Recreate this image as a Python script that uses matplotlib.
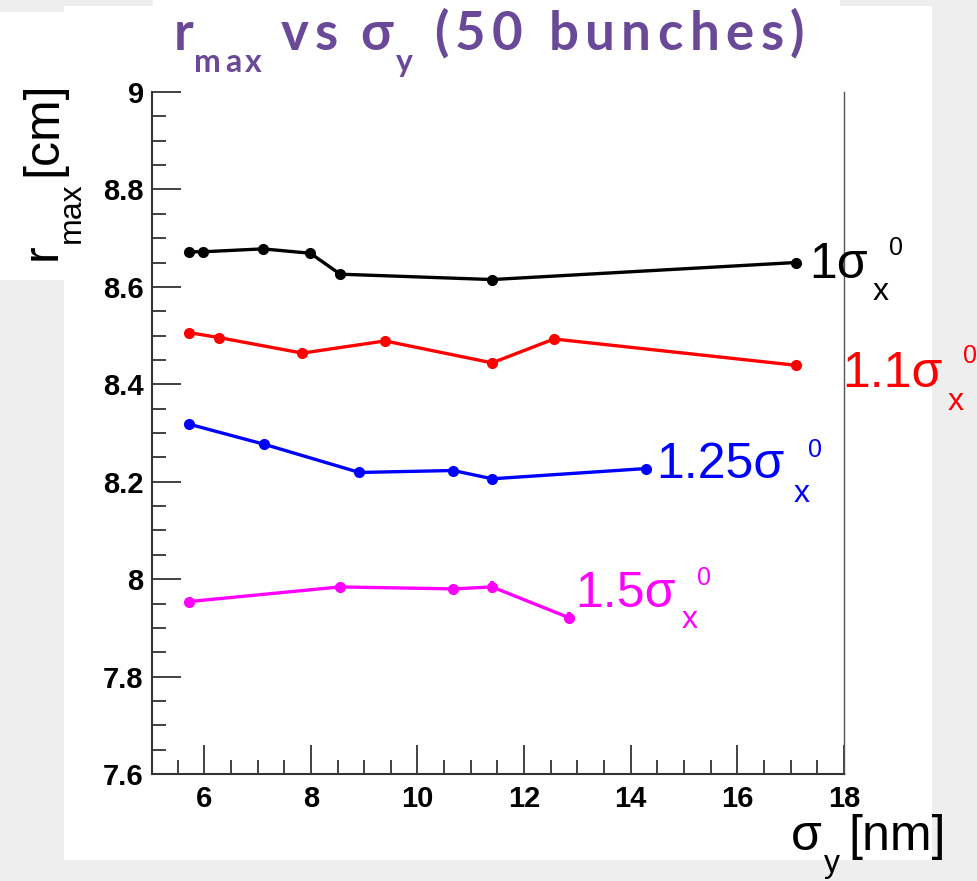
import matplotlib
matplotlib.use('Agg')
import matplotlib.pyplot as plt
from matplotlib.transforms import IdentityTransform
from matplotlib.patches import Rectangle
from matplotlib.ticker import MultipleLocator, FuncFormatter
from matplotlib.font_manager import FontProperties, findfont
from matplotlib.ft2font import FT2Font

plt.rcParams['font.family'] = ['Liberation Sans', 'DejaVu Sans']

# values (sigma_y in nm, r_max in cm)
sig1_x = [5.72, 5.98, 7.10, 7.99, 8.55, 11.40, 17.10]
sig1_r = [8.672, 8.672, 8.678, 8.669, 8.626, 8.615, 8.650]
sig11_x = [5.72, 6.27, 7.84, 9.39, 11.40, 12.56, 17.10]
sig11_r = [8.506, 8.496, 8.464, 8.489, 8.444, 8.493, 8.439]
sig125_x = [5.72, 7.12, 8.91, 10.67, 11.40, 14.28]
sig125_r = [8.318, 8.277, 8.219, 8.223, 8.206, 8.227]
sig15_x = [5.72, 8.54, 10.67, 11.40, 12.84]
sig15_r = [7.954, 7.984, 7.980, 7.984, 7.921]
sig15_err = [0.003, 0.009, 0.009, 0.013, 0.012]

W, H = 977, 881
fig = plt.figure(figsize=(W / 100, H / 100), dpi=100, facecolor='#eeeeee')

# white slide panels behind the plot
for (x0, y0, x1, y1) in [(64, 6, 932, 860), (153, 0, 840, 6), (0, 12, 64, 280)]:
    fig.patches.append(Rectangle((x0, H - y1), x1 - x0, y1 - y0, transform=IdentityTransform(),
                                 facecolor='white', edgecolor='none', zorder=-5))

ax = fig.add_axes([152 / W, 1 - 774 / H, 692 / W, 682 / H])
ax.set_facecolor('white')

ax.plot(sig1_x, sig1_r, '-o', color='black', lw=2.4, ms=7)
ax.plot(sig11_x, sig11_r, '-o', color='#ff0000', lw=2.4, ms=7)
ax.plot(sig125_x, sig125_r, '-o', color='#0000ff', lw=2.4, ms=7)
ax.errorbar(sig15_x, sig15_r, yerr=sig15_err, fmt='-o', color='#ff00ff', lw=2.4, ms=7,
            elinewidth=2.6, capsize=0)

ax.set_xlim(5.02, 18)
ax.set_ylim(7.6, 9.0)
ax.xaxis.set_major_locator(MultipleLocator(2))
ax.xaxis.set_minor_locator(MultipleLocator(0.5))
ax.yaxis.set_major_locator(MultipleLocator(0.2))
ax.yaxis.set_minor_locator(MultipleLocator(0.05))
ax.yaxis.set_major_formatter(FuncFormatter(lambda v, p: '%g' % round(v, 2)))
ax.tick_params(which='both', direction='in', top=False, right=False, color='#333333', width=1.3)
ax.tick_params(which='major', length=21, labelsize=21)
ax.tick_params(which='minor', length=10)
ax.tick_params(axis='y', pad=6)
ax.tick_params(axis='x', pad=8)
for lab in ax.get_xticklabels() + ax.get_yticklabels():
    lab.set_fontweight('bold')

ax.spines['top'].set_visible(False)
for s in ['left', 'bottom']:
    ax.spines[s].set_color('#333333')
    ax.spines[s].set_linewidth(1.5)
ax.spines['right'].set_color('#555555')
ax.spines['right'].set_linewidth(1.0)


def txt(x, y, s, size, color='black', rot=0, **kw):
    # x, y: baseline start in pixels, measured from top-left corner
    fig.text(x, H - y, s, transform=IdentityTransform(), fontsize=size, color=color,
             rotation=rot, rotation_mode='anchor', ha='left', va='baseline', **kw)


def tracked(x, y, s, size, color, track, family, weight):
    # letter-spaced text, one glyph at a time
    ft = FT2Font(findfont(FontProperties(family=family, weight=weight)))
    ft.set_size(size, 100)
    for c in s:
        txt(x, y, c, size, color, family=[family, 'DejaVu Sans'], weight=weight)
        g = ft.load_char(ord(c))
        x += g.linearHoriAdvance / 65536 + track


# title
purple = '#6a4a98'
tracked(174, 50, 'r', 38, purple, 6, 'Lato', 'bold')
tracked(194, 72, 'max', 23, purple, 4, 'Lato', 'bold')
tracked(281, 50, 'vs', 38, purple, 6, 'Lato', 'bold')
tracked(360, 50, 'σ', 38, purple, 6, 'Lato', 'bold')
tracked(396, 72, 'y', 23, purple, 4, 'Lato', 'bold')
tracked(434, 50, '(50 bunches)', 38, purple, 6.5, 'Lato', 'bold')

# axis titles
txt(791, 850, 'σ', 36)
txt(824, 872, 'y', 23)
txt(848, 850, '[nm]', 36)
txt(56, 260, 'r', 36, rot=90)
txt(80, 243, 'max', 23, rot=90)
txt(56, 176, '[cm]', 36, rot=90)

# curve labels
labels = [('1', 'black', 809, 278, 873, 300, 889, 255),
          ('1.1', '#ff0000', 842, 387, 948, 410, 963, 363),
          ('1.25', '#0000ff', 656, 478, 794, 502, 808, 457),
          ('1.5', '#ff00ff', 575, 607, 682, 628, 697, 585)]
for lead, col, mx, my, sx, sy, px, py in labels:
    txt(mx, my, lead + 'σ', 36, col)
    txt(sx, sy, 'x', 23, col)
    txt(px, py, '0', 18, col)

fig.savefig('out.png', dpi=100, facecolor=fig.get_facecolor())
